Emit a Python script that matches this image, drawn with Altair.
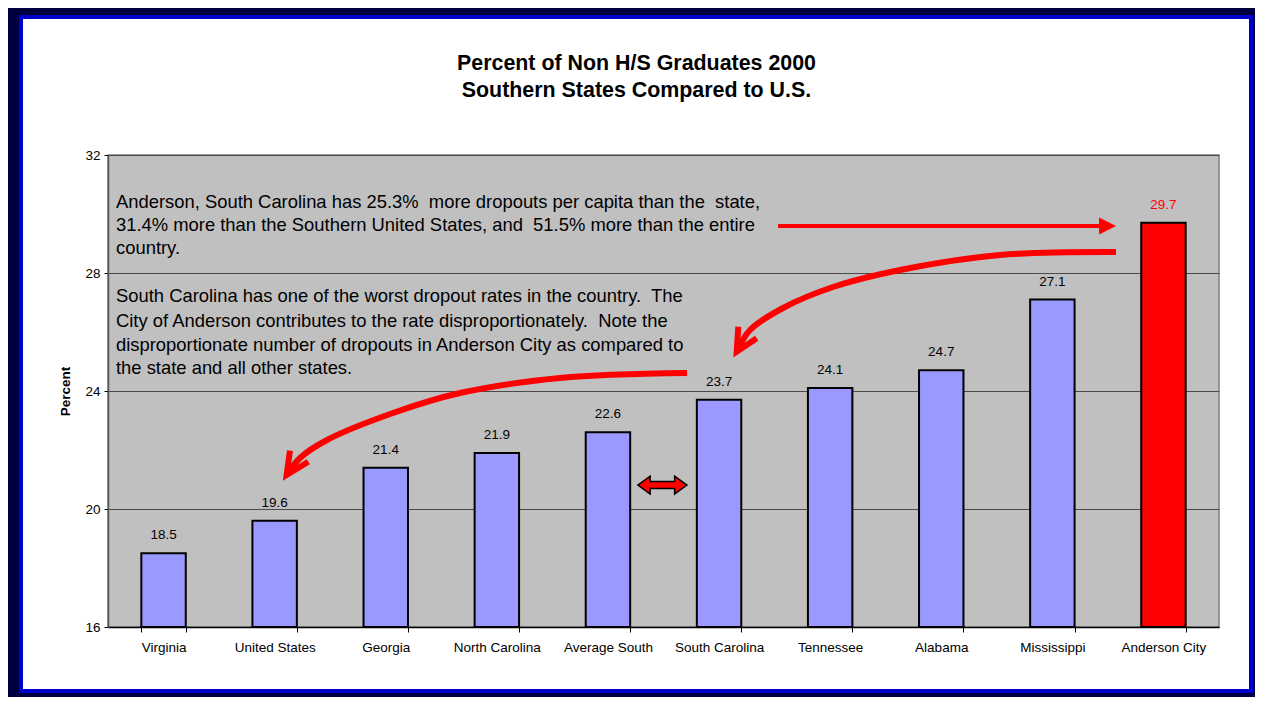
import altair as alt
import pandas as pd

FONT = "Liberation Sans"

# ---- data ----
categories = ["Virginia", "United States", "Georgia", "North Carolina", "Average South",
              "South Carolina", "Tennessee", "Alabama", "Mississippi", "Anderson City"]
values = [18.5, 19.6, 21.4, 21.9, 22.6, 23.7, 24.1, 24.7, 27.1, 29.7]
groups = ["other"] * 9 + ["Anderson"]
y_ticks = [16, 20, 24, 28, 32]

title_lines = ["Percent of Non H/S Graduates 2000", "Southern States Compared to U.S."]

note_lines = [
    "Anderson, South Carolina has 25.3%  more dropouts per capita than the  state,",
    "31.4% more than the Southern United States, and  51.5% more than the entire",
    "country.",
    "South Carolina has one of the worst dropout rates in the country.  The",
    "City of Anderson contributes to the rate disproportionately.  Note the",
    "disproportionate number of dropouts in Anderson City as compared to",
    "the state and all other states.",
]
note_y = [30.42, 29.63, 28.85, 27.22, 26.38, 25.56, 24.78]
note_x = [0.072] * 7

# annotation arrows, in (category-index, percent) coordinates
arrow1_x = [6.031, 8.947]
arrow1_y = [29.59, 29.59]
arrow1_head_x = [8.997]
arrow1_head_y = [29.59]

curve_id = ["a2"] * 7 + ["a3"] * 7
curve_x = [9.073, 8.029, 7.129, 6.526, 6.076, 5.779, 5.671,
           5.212, 4.068, 3.168, 2.565, 1.971, 1.728, 1.629]
curve_y = [28.712, 28.610, 28.102, 27.525, 26.814, 26.068, 25.424,
           24.610, 24.441, 23.932, 23.254, 22.339, 21.729, 21.254]

head_id = ["a2"] * 3 + ["a3"] * 3
head_x = [5.673, 5.659, 5.839, 1.638, 1.608, 1.803]
head_y = [26.180, 25.332, 25.786, 21.976, 21.153, 21.603]

double_x = [4.99]
double_y = [20.81]

# ---- tables ----
bars_df = pd.DataFrame({"category": categories, "value": values, "group": groups})
notes_df = pd.DataFrame({"text": [t.replace("  ", "\u00a0 ") for t in note_lines],
                         "ax": note_x, "value": note_y})
arrow1_df = pd.DataFrame({"ax": arrow1_x, "value": arrow1_y, "ord": list(range(len(arrow1_x)))})
arrow1_head_df = pd.DataFrame({"ax": arrow1_head_x, "value": arrow1_head_y})
curve_df = pd.DataFrame({"id": curve_id, "ax": curve_x, "value": curve_y,
                         "ord": list(range(len(curve_x)))})
head_df = pd.DataFrame({"id": head_id, "ax": head_x, "value": head_y,
                        "ord": list(range(len(head_x)))})
double_df = pd.DataFrame({"ax": double_x, "value": double_y})
one = pd.DataFrame({"a": [0]})

W, H = 1111, 472

yscale = alt.Scale(domain=[16, 32], zero=False, nice=False)
xband = alt.Scale(domain=categories, paddingInner=0.6, paddingOuter=0.3)
xq = alt.Scale(domain=[0, 10], zero=False, nice=False)

# frame
frame_navy = alt.Chart(one).mark_rect(fillOpacity=0, stroke="#000040", strokeWidth=22).encode(
    x=alt.value(-100), x2=alt.value(1156), y=alt.value(-151), y2=alt.value(549))
frame_blue = alt.Chart(one).mark_rect(fillOpacity=0, stroke="#0000CC", strokeWidth=4).encode(
    x=alt.value(-87), x2=alt.value(1143), y=alt.value(-138), y2=alt.value(536))

title = alt.Chart(one).mark_text(text=title_lines, font=FONT, fontSize=21.4, fontWeight="bold",
                                 color="black", align="center", baseline="alphabetic",
                                 lineHeight=27.3).encode(
    x=alt.value(528.5), y=alt.value(-85))

bars = alt.Chart(bars_df).mark_bar(stroke="black", strokeWidth=2).encode(
    x=alt.X("category:N", sort=categories, scale=xband,
            axis=alt.Axis(title=None, labelFont=FONT, labelFontSize=13.5, labelColor="black",
                          labelAngle=0, labelPadding=8, domainColor="black", domainWidth=1.5,
                          tickColor="black", tickSize=5, tickBand="extent", grid=False)),
    y=alt.Y("value:Q", scale=yscale,
            axis=alt.Axis(values=y_ticks, title="Percent", titleFont=FONT, titleFontSize=13.5,
                          titleFontWeight="bold", titleColor="black", titlePadding=12,
                          labelFont=FONT, labelFontSize=13.5, labelColor="black",
                          labelPadding=4, tickSize=4, tickColor="black",
                          domainColor="#555555", domainWidth=1.5,
                          grid=True, gridColor="#4a4a4a", gridWidth=1)),
    y2=alt.datum(16),
    color=alt.condition("datum.group == 'Anderson'", alt.value("#FF0000"), alt.value("#9999FF")),
)

labels = alt.Chart(bars_df).mark_text(font=FONT, fontSize=13.5, dy=-18, baseline="middle").encode(
    x=alt.X("category:N", sort=categories, scale=xband, axis=None),
    y=alt.Y("value:Q", scale=yscale),
    text=alt.Text("value:Q", format=".1f"),
    color=alt.condition("datum.group == 'Anderson'", alt.value("#FF0000"), alt.value("#000000")),
)

notes = alt.Chart(notes_df).mark_text(font=FONT, fontSize=18.4, align="left",
                                      baseline="middle", color="black").encode(
    x=alt.X("ax:Q", scale=xq, axis=None),
    y=alt.Y("value:Q", scale=yscale),
    text="text:N",
)

arrow1 = alt.Chart(arrow1_df).mark_line(color="#FF0000", strokeWidth=4).encode(
    x=alt.X("ax:Q", scale=xq, axis=None),
    y=alt.Y("value:Q", scale=yscale),
    order="ord:Q",
)
arrow1_head = alt.Chart(arrow1_head_df).mark_point(
    shape="M-1,-1L1,0L-1,1Z", size=289, filled=True, color="#FF0000", opacity=1,
    strokeWidth=0).encode(
    x=alt.X("ax:Q", scale=xq, axis=None),
    y=alt.Y("value:Q", scale=yscale),
)

curves = alt.Chart(curve_df).mark_line(color="#FF0000", strokeWidth=6,
                                       interpolate="catmull-rom").encode(
    x=alt.X("ax:Q", scale=xq, axis=None),
    y=alt.Y("value:Q", scale=yscale),
    detail="id:N",
    order="ord:Q",
)
heads = alt.Chart(head_df).mark_line(color="#FF0000", strokeWidth=6, strokeJoin="miter").encode(
    x=alt.X("ax:Q", scale=xq, axis=None),
    y=alt.Y("value:Q", scale=yscale),
    detail="id:N",
    order="ord:Q",
)

double_arrow = alt.Chart(double_df).mark_point(
    shape="M-1,0L-0.5,-0.367L-0.5,-0.143L0.5,-0.143L0.5,-0.367L1,0L0.5,0.367L0.5,0.143L-0.5,0.143L-0.5,0.367Z",
    size=2401, filled=True, fill="#FF0000", stroke="black", strokeWidth=1.5, opacity=1).encode(
    x=alt.X("ax:Q", scale=xq, axis=None),
    y=alt.Y("value:Q", scale=yscale),
)

chart = alt.layer(
    frame_navy, frame_blue, title, bars, labels, notes, arrow1, arrow1_head, curves, heads,
    double_arrow
).resolve_scale(x="independent").properties(
    width=W, height=H,
    autosize="none",
    padding={"left": 100, "top": 147, "right": 36, "bottom": 70},
    background="white",
).configure_view(fill="#C0C0C0", stroke="#808080", strokeWidth=1.5)

chart.save("out.html", embed_options={"renderer": "svg", "actions": False})
